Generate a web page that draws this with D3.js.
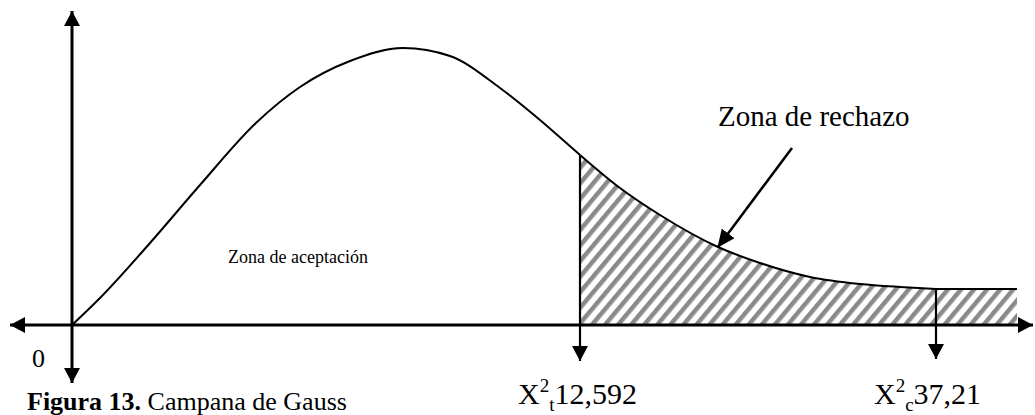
<!DOCTYPE html>
<html>
<head>
    <meta charset="utf-8">
    <title>Campana de Gauss</title>
    <script src="https://d3js.org/d3.v7.min.js"></script>
    <style>
        body {
            margin: 0;
            padding: 0;
            background-color: #ffffff;
            font-family: "Liberation Serif", "Times New Roman", serif;
        }
    </style>
</head>
<body>
    <div id="chart"></div>

    <script>
        // curve (x: distance right of origin, y: height above axis)
        var curveX = [0, 28, 78, 128, 185, 228, 278, 331, 378, 428, 468, 508, 548, 588, 646, 688, 738, 788, 828, 864];
        var curveY = [0, 27, 82, 140, 203, 238, 264, 277, 269, 237, 205, 170, 137, 110, 78, 62, 48, 41, 38, 36];

        // critical values
        var critX = [508, 864];
        var critSym = ["X", "X"];
        var critSup = ["2", "2"];
        var critSub = ["t", "c"];
        var critVal = ["12,592", "37,21"];
        var tailEnd = 945;

        var width = 1035, height = 415;

        var svg = d3.select("#chart")
            .append("svg")
            .attr("width", width)
            .attr("height", height);

        var xScale = d3.scaleLinear().domain([0, 960]).range([72, 1032]);
        var yScale = d3.scaleLinear().domain([0, 320]).range([325, 5]);

        var curve = curveX.map(function(x, i) { return { x: x, y: curveY[i] }; });

        // arrow heads
        var defs = svg.append("defs");
        defs.append("marker")
            .attr("id", "head")
            .attr("markerUnits", "userSpaceOnUse")
            .attr("viewBox", "0 0 16 16")
            .attr("markerWidth", 16)
            .attr("markerHeight", 16)
            .attr("refX", 15)
            .attr("refY", 8)
            .attr("orient", "auto-start-reverse")
            .append("path")
            .attr("d", "M0,0 L15,8 L0,16 Z")
            .attr("fill", "#000");

        defs.append("marker")
            .attr("id", "head2")
            .attr("markerUnits", "userSpaceOnUse")
            .attr("viewBox", "0 0 18 16")
            .attr("markerWidth", 18)
            .attr("markerHeight", 16)
            .attr("refX", 17)
            .attr("refY", 8)
            .attr("orient", "auto")
            .append("path")
            .attr("d", "M0,0 L18,8 L0,16 Z")
            .attr("fill", "#000");

        var hatch = defs.append("pattern")
            .attr("id", "hatch")
            .attr("patternUnits", "userSpaceOnUse")
            .attr("width", 10)
            .attr("height", 10)
            .attr("patternTransform", "rotate(40)");
        hatch.append("rect")
            .attr("width", 4.5)
            .attr("height", 10)
            .attr("fill", "#8a8a8a");

        // rejection area
        var tail = curve.filter(function(d) { return d.x >= critX[0]; });
        var lastY = tail[tail.length - 1].y;
        var area = tail.concat([{ x: tailEnd, y: lastY }]);

        svg.append("path")
            .datum(area)
            .attr("fill", "url(#hatch)")
            .attr("d", d3.area()
                .x(function(d) { return xScale(d.x); })
                .y0(yScale(0))
                .y1(function(d) { return yScale(d.y); })
                .curve(d3.curveMonotoneX));

        // tail top line past the last value
        svg.append("line")
            .attr("x1", xScale(critX[1]))
            .attr("x2", xScale(tailEnd))
            .attr("y1", yScale(lastY))
            .attr("y2", yScale(lastY))
            .attr("stroke", "#000")
            .attr("stroke-width", 2);

        // the bell
        svg.append("path")
            .datum(curve)
            .attr("fill", "none")
            .attr("stroke", "#000")
            .attr("stroke-width", 2)
            .attr("d", d3.line()
                .x(function(d) { return xScale(d.x); })
                .y(function(d) { return yScale(d.y); })
                .curve(d3.curveMonotoneX));

        // axes
        svg.append("line")
            .attr("x1", 10).attr("x2", 1033)
            .attr("y1", yScale(0)).attr("y2", yScale(0))
            .attr("stroke", "#000").attr("stroke-width", 3)
            .attr("marker-start", "url(#head)")
            .attr("marker-end", "url(#head)");

        svg.append("line")
            .attr("x1", xScale(0)).attr("x2", xScale(0))
            .attr("y1", 383).attr("y2", 11)
            .attr("stroke", "#000").attr("stroke-width", 3)
            .attr("marker-start", "url(#head)")
            .attr("marker-end", "url(#head)");

        // critical value markers
        var yAt = function(x) {
            var c = curve.find(function(d) { return d.x === x; });
            return c ? c.y : lastY;
        };

        critX.forEach(function(x, i) {
            svg.append("line")
                .attr("x1", xScale(x)).attr("x2", xScale(x))
                .attr("y1", yScale(yAt(x))).attr("y2", 361 - i * 2)
                .attr("stroke", "#000").attr("stroke-width", 2.2)
                .attr("marker-end", "url(#head)");

            var t = svg.append("text")
                .attr("x", xScale(x) - 62)
                .attr("y", 404)
                .style("font-size", "30px")
                .attr("fill", "#000");
            t.append("tspan").text(critSym[i]);
            t.append("tspan").attr("dy", -12).style("font-size", "19px").text(critSup[i]);
            t.append("tspan").attr("dy", 19).style("font-size", "19px").text(critSub[i]);
            t.append("tspan").attr("dy", -7).text(critVal[i]);
        });

        // annotation arrow
        svg.append("line")
            .attr("x1", xScale(720)).attr("y1", yScale(177))
            .attr("x2", xScale(646)).attr("y2", yScale(78))
            .attr("stroke", "#000").attr("stroke-width", 2.5)
            .attr("marker-end", "url(#head2)");

        svg.append("text")
            .attr("x", xScale(646))
            .attr("y", 126)
            .style("font-size", "29px")
            .text("Zona de rechazo");

        svg.append("text")
            .attr("x", 228)
            .attr("y", 263)
            .style("font-size", "18px")
            .text("Zona de aceptación");

        svg.append("text")
            .attr("x", 32)
            .attr("y", 367)
            .style("font-size", "26px")
            .text("0");

        var cap = svg.append("text")
            .attr("x", 27)
            .attr("y", 410)
            .style("font-size", "26px");
        cap.append("tspan").style("font-weight", "bold").text("Figura 13.");
        cap.append("tspan").text(" Campana de Gauss");
    </script>
</body>
</html>
